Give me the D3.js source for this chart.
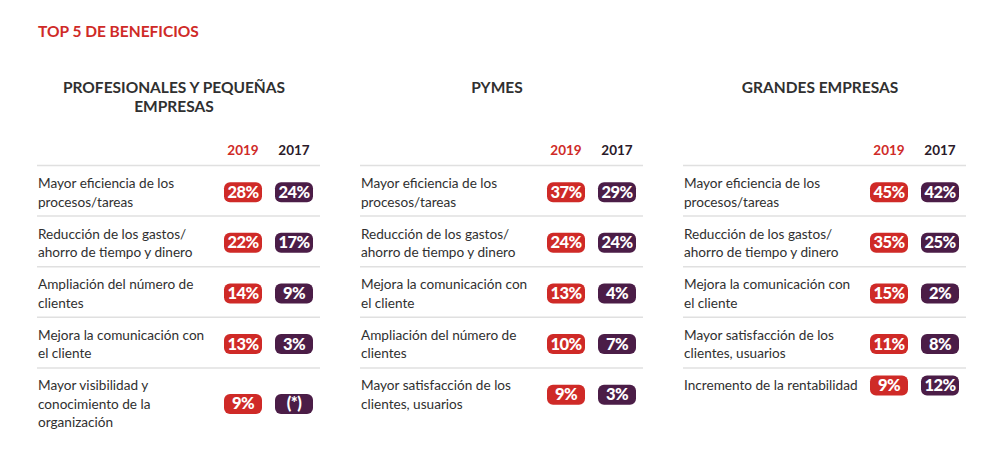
<!DOCTYPE html>
<html>
<head>
<meta charset="utf-8">
<script src="https://cdn.jsdelivr.net/npm/d3@7"></script>
<style>
  html, body { margin: 0; padding: 0; background: #fff; }
  svg { display: block; font-family: Lato, "Open Sans", sans-serif; }
</style>
</head>
<body>
<svg id="chart" width="1000" height="458"></svg>
<script>
// ---- data ----
const title = "TOP 5 DE BENEFICIOS";
const segments = ["PROFESIONALES Y PEQUEÑAS EMPRESAS", "PYMES", "GRANDES EMPRESAS"];
const segmentTitleLines = [["PROFESIONALES Y PEQUEÑAS", "EMPRESAS"], ["PYMES"], ["GRANDES EMPRESAS"]];
const years = ["2019", "2017"];

const benefitsPro = [
  ["Mayor eficiencia de los", "procesos/tareas"],
  ["Reducción de los gastos/", "ahorro de tiempo y dinero"],
  ["Ampliación del número de", "clientes"],
  ["Mejora la comunicación con", "el cliente"],
  ["Mayor visibilidad y", "conocimiento de la", "organización"]
];
const benefitsPymes = [
  ["Mayor eficiencia de los", "procesos/tareas"],
  ["Reducción de los gastos/", "ahorro de tiempo y dinero"],
  ["Mejora la comunicación con", "el cliente"],
  ["Ampliación del número de", "clientes"],
  ["Mayor satisfacción de los", "clientes, usuarios"]
];
const benefitsGrandes = [
  ["Mayor eficiencia de los", "procesos/tareas"],
  ["Reducción de los gastos/", "ahorro de tiempo y dinero"],
  ["Mejora la comunicación con", "el cliente"],
  ["Mayor satisfacción de los", "clientes, usuarios"],
  ["Incremento de la rentabilidad"]
];
const pro2019 = [28, 22, 14, 13, 9];
const pro2017 = [24, 17, 9, 3, null];      // null = "(*)"
const pymes2019 = [37, 24, 13, 10, 9];
const pymes2017 = [29, 24, 4, 7, 3];
const grandes2019 = [45, 35, 15, 11, 9];
const grandes2017 = [42, 25, 2, 8, 12];

// ---- assemble ----
const panels = [
  { name: segments[0], titleLines: segmentTitleLines[0], labels: benefitsPro, v: { "2019": pro2019, "2017": pro2017 } },
  { name: segments[1], titleLines: segmentTitleLines[1], labels: benefitsPymes, v: { "2019": pymes2019, "2017": pymes2017 } },
  { name: segments[2], titleLines: segmentTitleLines[2], labels: benefitsGrandes, v: { "2019": grandes2019, "2017": grandes2017 } }
];

const RED = "#cf2a27";
const PURPLE = "#4b1d47";
const TEXT = "#303030";
const LINE = "#e0e0e0";

const svg = d3.select("#chart");

svg.append("text")
  .attr("x", 38).attr("y", 37)
  .attr("fill", RED)
  .attr("font-size", 15.5).attr("font-weight", 700)
  .text(title);

const panelX = d3.scaleBand().domain(segments).range([37, 37 + 3 * 323]).padding(0);
const rowY = d3.scaleBand().domain(d3.range(5)).range([165, 165 + 5 * 50.6]).padding(0);
const lineW = 283;
const lineH = 18.5;

panels.forEach(p => {
  const x0 = panelX(p.name);
  const g = svg.append("g");
  const colX = d3.scalePoint().domain(years).range([x0 + 206, x0 + 257]);

  // panel heading
  g.selectAll("text.head").data(p.titleLines).join("text")
    .attr("class", "head")
    .attr("x", x0 + 137).attr("y", (d, i) => 93 + i * 19)
    .attr("text-anchor", "middle")
    .attr("fill", TEXT).attr("font-size", 15.5).attr("font-weight", 700)
    .text(d => d);

  // year headers
  g.selectAll("text.yr").data(years).join("text")
    .attr("class", "yr")
    .attr("x", d => colX(d)).attr("y", 155)
    .attr("text-anchor", "middle")
    .attr("fill", (d, i) => i === 0 ? RED : "#2b1a29")
    .attr("font-size", 13.5).attr("font-weight", 700)
    .text(d => d);

  // rows
  p.labels.forEach((lines, i) => {
    const top = rowY(i);
    g.append("line")
      .attr("x1", x0).attr("x2", x0 + lineW)
      .attr("y1", top + 0.5).attr("y2", top + 0.5)
      .attr("stroke", LINE).attr("stroke-width", 1.5);

    g.selectAll(null).data(lines).join("text")
      .attr("x", x0 + 1).attr("y", (d, j) => top + 23 + j * lineH)
      .attr("fill", TEXT).attr("font-size", 13.6)
      .text(d => d);

    const cy = top + 18 + (lines.length - 1) * lineH / 2;
    years.forEach((yr, k) => {
      const val = p.v[yr][i];
      const cx = colX(yr);
      g.append("rect")
        .attr("x", cx - 19).attr("y", cy - 10)
        .attr("width", 38).attr("height", 20)
        .attr("rx", 6).attr("ry", 6)
        .attr("fill", k === 0 ? RED : PURPLE);
      g.append("text")
        .attr("x", cx).attr("y", cy + 5.5)
        .attr("text-anchor", "middle")
        .attr("fill", "#fff").attr("font-size", 16.5).attr("font-weight", 900)
        .attr("letter-spacing", -0.6)
        .text(val == null ? "(*)" : val + "%");
    });
  });
});
</script>
</body>
</html>
